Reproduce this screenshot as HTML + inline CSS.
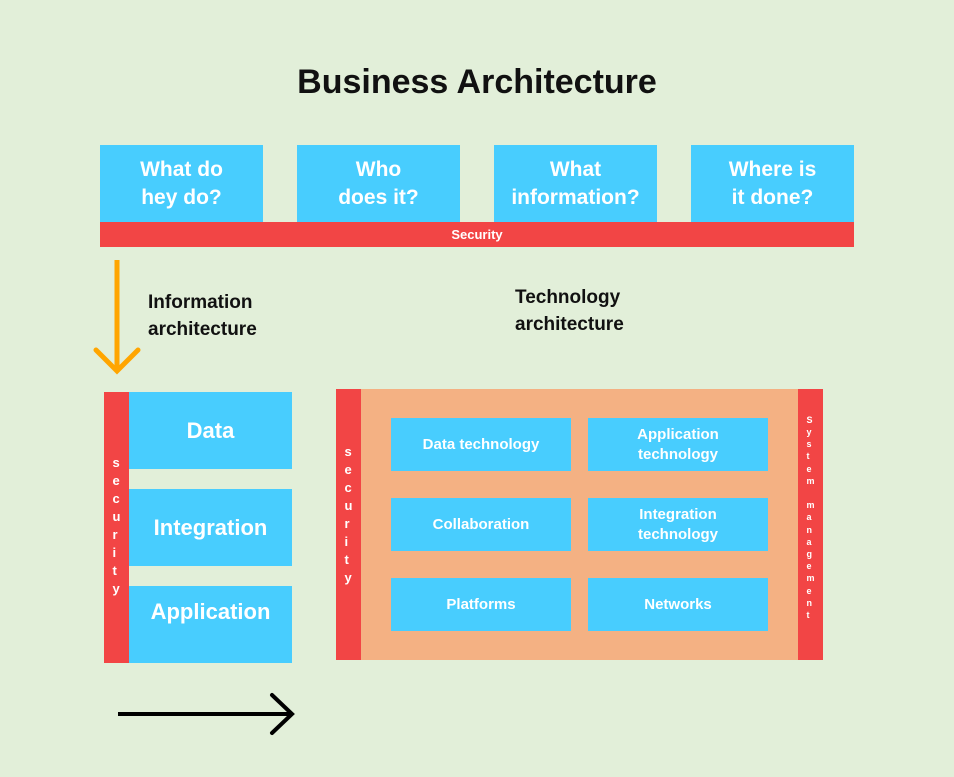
<!DOCTYPE html>
<html><head><style>
body{margin:0;width:954px;height:777px;background:#e2efd9;position:relative;overflow:hidden;font-family:"Liberation Sans",sans-serif;}
.a{position:absolute;box-sizing:border-box;}
.b{background:#48cdfe;color:#fff;font-weight:bold;display:flex;align-items:center;justify-content:center;text-align:center;}
.r{background:#f24545;color:#fff;}
.v{display:flex;flex-direction:column;align-items:center;justify-content:center;font-weight:bold;}
.t{color:#111;font-weight:bold;}
</style></head><body>
<div class="a t" style="left:0;width:954px;top:63px;text-align:center;font-size:34px;">Business Architecture</div>
<div class="a b" style="left:100px;top:145px;width:163px;height:77px;font-size:21px;line-height:28px;">What do<br>hey do?</div>
<div class="a b" style="left:297px;top:145px;width:163px;height:77px;font-size:21px;line-height:28px;">Who<br>does it?</div>
<div class="a b" style="left:494px;top:145px;width:163px;height:77px;font-size:21px;line-height:28px;">What<br>information?</div>
<div class="a b" style="left:691px;top:145px;width:163px;height:77px;font-size:21px;line-height:28px;">Where is<br>it done?</div>
<div class="a r" style="left:100px;top:222px;width:754px;height:25px;text-align:center;font-size:13px;line-height:25px;font-weight:bold;">Security</div>
<svg class="a" style="left:0;top:0" width="954" height="777">
<line x1="117" y1="260" x2="117" y2="368" stroke="#ffa500" stroke-width="5"/>
<polyline points="96,350 117,371 138,350" fill="none" stroke="#ffa500" stroke-width="5" stroke-linecap="round"/>
<line x1="118" y1="714" x2="290" y2="714" stroke="#000" stroke-width="4"/>
<polyline points="272,695 292,714 272,733" fill="none" stroke="#000" stroke-width="4" stroke-linecap="round"/>
</svg>
<div class="a t" style="left:148px;top:289px;font-size:19px;line-height:27px;">Information<br>architecture</div>
<div class="a t" style="left:515px;top:284px;font-size:19px;line-height:27px;">Technology<br>architecture</div>
<div class="a r v" style="left:104px;top:392px;width:25px;height:271px;font-size:13px;line-height:18px;padding-bottom:4px;">s<br>e<br>c<br>u<br>r<br>i<br>t<br>y</div>
<div class="a b" style="left:129px;top:392px;width:163px;height:77px;font-size:22px;">Data</div>
<div class="a b" style="left:129px;top:489px;width:163px;height:77px;font-size:22px;">Integration</div>
<div class="a b" style="left:129px;top:586px;width:163px;height:77px;font-size:22px;padding-bottom:26px;">Application</div>
<div class="a" style="left:336px;top:389px;width:487px;height:271px;background:#f4b183;"></div>
<div class="a r v" style="left:336px;top:389px;width:25px;height:271px;font-size:13px;line-height:18px;padding-bottom:20px;">s<br>e<br>c<br>u<br>r<br>i<br>t<br>y</div>
<div class="a r v" style="left:798px;top:389px;width:25px;height:271px;font-size:9px;line-height:12.2px;padding-bottom:14px;">S<br>y<br>s<br>t<br>e<br>m<br>&nbsp;<br>m<br>a<br>n<br>a<br>g<br>e<br>m<br>e<br>n<br>t</div>
<div class="a b" style="left:391px;top:418px;width:180px;height:53px;font-size:15px;">Data technology</div>
<div class="a b" style="left:588px;top:418px;width:180px;height:53px;font-size:15px;line-height:20px;">Application<br>technology</div>
<div class="a b" style="left:391px;top:498px;width:180px;height:53px;font-size:15px;">Collaboration</div>
<div class="a b" style="left:588px;top:498px;width:180px;height:53px;font-size:15px;line-height:20px;">Integration<br>technology</div>
<div class="a b" style="left:391px;top:578px;width:180px;height:53px;font-size:15px;">Platforms</div>
<div class="a b" style="left:588px;top:578px;width:180px;height:53px;font-size:15px;">Networks</div>
</body></html>
